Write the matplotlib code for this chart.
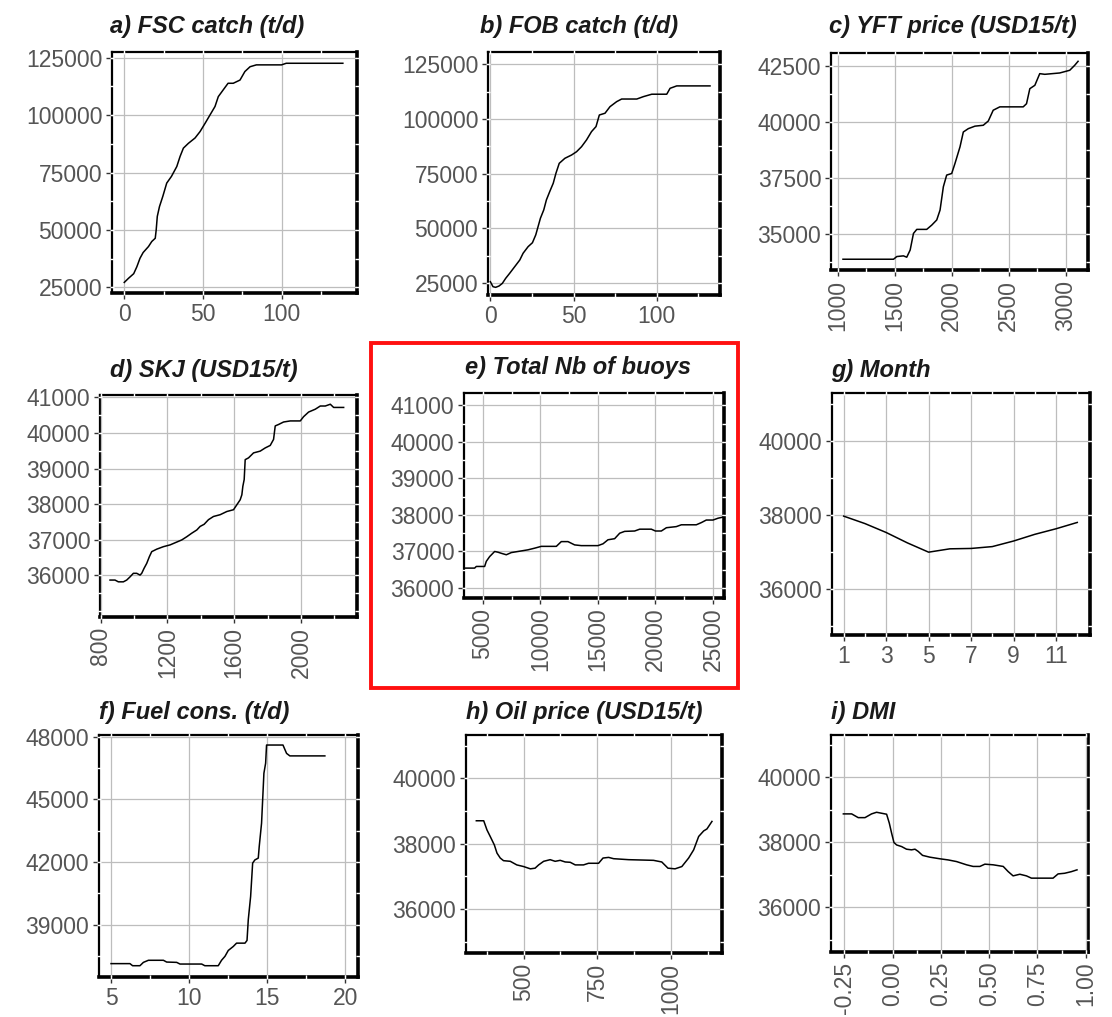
import numpy as np
import matplotlib
matplotlib.use('Agg')
import matplotlib.pyplot as plt
from matplotlib.ticker import MultipleLocator, FixedLocator, FormatStrFormatter
from matplotlib.patches import Rectangle

plt.rcParams['font.family'] = ['Liberation Sans', 'DejaVu Sans']

# a) FSC catch
fsc_x = [0, 2.7, 6, 8, 10, 12, 15.4, 17.5, 19.7, 20.3, 21, 22.4, 24.5, 27, 30, 33.4, 35.5,
         37.6, 40.8, 45, 48.2, 51.4, 54.5, 57.7, 59.8, 63, 66, 69.3, 73.6, 76.7, 80, 84, 100, 103, 139]
fsc_y = [27200, 29000, 31000, 34000, 37700, 40200, 42800, 45000, 46400, 50000, 55900, 60200,
         64600, 70400, 73300, 77600, 82000, 85600, 87700, 90000, 92800, 96400, 100000, 103700,
         108000, 111000, 113800, 113800, 115200, 118900, 121000, 121800, 121800, 122500, 122500]

# b) FOB catch
fob_x = [0, 1.6, 3.2, 5.2, 7.2, 9.2, 11.6, 14.7, 17.7, 19.7, 22.7, 25.3, 27.3, 28.7, 30.1, 32.1,
         33.7, 35.7, 37.8, 39.4, 41.4, 44.8, 48.8, 51.8, 54.8, 57.8, 60.8, 63.5, 65.5, 68.9, 71.9,
         75.9, 78.9, 88, 92, 97, 106, 108, 112, 132]
fob_y = [25600, 23300, 23000, 23600, 24800, 27100, 29400, 32500, 35500, 38600, 41600, 43400,
         47000, 50800, 54600, 58400, 63000, 66800, 70600, 75100, 79700, 82000, 83500, 85000,
         87300, 90400, 94200, 96500, 101800, 102600, 105600, 107900, 109100, 109100, 110200,
         111300, 111300, 114000, 115100, 115100]

# c) YFT price
yft_x = [1047, 1490, 1519, 1577, 1606, 1636, 1665, 1694, 1781, 1825, 1869, 1898, 1927, 1956, 2000,
         2029, 2073, 2102, 2146, 2204, 2277, 2321, 2364, 2422, 2627, 2656, 2685, 2729, 2772, 2816,
         2947, 3035, 3078, 3108]
yft_y = [33890, 33890, 34010, 34040, 33980, 34300, 35040, 35220, 35220, 35410, 35640, 36080, 37120,
         37640, 37710, 38160, 38900, 39560, 39710, 39820, 39860, 40050, 40530, 40680, 40680, 40820,
         41490, 41640, 42160, 42130, 42190, 42310, 42530, 42710]

# d) SKJ price
skj_x = [856, 886, 906, 936, 956, 976, 996, 1016, 1036, 1046, 1060, 1076, 1092, 1106, 1136, 1176,
         1216, 1246, 1286, 1316, 1346, 1376, 1396, 1420, 1446, 1476, 1516, 1556, 1596, 1616, 1636,
         1646, 1652, 1660, 1666, 1686, 1716, 1756, 1786, 1816, 1836, 1846, 1866, 1896, 1936, 1996,
         2016, 2046, 2086, 2116, 2146, 2176, 2196, 2256]
skj_y = [35860, 35860, 35810, 35810, 35860, 35950, 36050, 36050, 36000, 36050, 36190, 36330, 36520,
         36660, 36730, 36800, 36850, 36910, 36990, 37080, 37180, 37270, 37370, 37430, 37560, 37650,
         37700, 37790, 37840, 37980, 38120, 38260, 38500, 38690, 39250, 39300, 39440, 39490, 39580,
         39650, 39820, 40200, 40240, 40310, 40340, 40340, 40460, 40590, 40670, 40760, 40760, 40810,
         40720, 40720]

# e) Total Nb of buoys
buoy_x = [3400, 4275, 4420, 5145, 5290, 5580, 6015, 6305, 6595, 7030, 7465, 8045, 8910, 9490,
          10070, 11380, 11810, 12390, 12970, 13550, 15000, 15440, 15870, 16450, 16890, 17320,
          18190, 18630, 19640, 20000, 20510, 20950, 21810, 22250, 23550, 23990, 24420, 25000,
          25440, 25870]
buoy_y = [36545, 36545, 36590, 36590, 36730, 36860, 37000, 36980, 36950, 36910, 36970, 37000,
          37045, 37090, 37140, 37140, 37270, 37270, 37180, 37160, 37160, 37210, 37320, 37350,
          37500, 37550, 37560, 37610, 37610, 37560, 37560, 37650, 37680, 37730, 37730, 37790,
          37860, 37860, 37910, 37940]

# g) Month
month_x = [1, 2, 3, 4, 5, 6, 7, 8, 9, 10, 11, 12]
month_y = [37970, 37770, 37530, 37250, 37000, 37090, 37100, 37150, 37300, 37480, 37630, 37800]

# f) Fuel consumption
fuel_x = [5, 6.21, 6.38, 6.85, 7.07, 7.39, 8.35, 8.56, 9.2, 9.41, 10.8, 11.0, 11.86, 12.07, 12.29,
          12.5, 12.82, 13.03, 13.57, 13.7, 13.78, 13.93, 14.06, 14.2, 14.42, 14.48, 14.63, 14.78,
          14.89, 14.95, 15.16, 16.0, 16.23, 16.44, 18.68]
fuel_y = [37140, 37140, 37040, 37040, 37200, 37300, 37300, 37215, 37200, 37120, 37120, 37040,
          37040, 37300, 37490, 37770, 37960, 38120, 38120, 38250, 39240, 40350, 41950, 42100,
          42190, 42740, 43860, 46250, 46730, 47600, 47600, 47600, 47200, 47080, 47080]

# h) Oil price
oil_x = [340, 365, 376, 387, 401, 410, 421, 432, 455, 477, 500, 523, 539, 551, 568, 590, 607, 624,
         641, 658, 675, 703, 720, 754, 769, 788, 805, 856, 940, 968, 989, 1013, 1036, 1059, 1076,
         1093, 1110, 1121, 1138]
oil_y = [38700, 38700, 38420, 38220, 37960, 37710, 37560, 37480, 37460, 37350, 37300, 37230,
         37250, 37350, 37460, 37510, 37460, 37490, 37440, 37430, 37350, 37350, 37400, 37400,
         37560, 37580, 37540, 37510, 37490, 37440, 37250, 37230, 37300, 37560, 37810, 38220,
         38390, 38450, 38680]

# i) DMI
dmi_x = [-0.255, -0.212, -0.178, -0.143, -0.109, -0.083, -0.057, -0.031, -0.017, -0.005, 0.007,
         0.021, 0.047, 0.072, 0.098, 0.116, 0.133, 0.155, 0.193, 0.245, 0.288, 0.331, 0.383,
         0.417, 0.452, 0.478, 0.521, 0.573, 0.598, 0.624, 0.659, 0.693, 0.719, 0.753, 0.831,
         0.857, 0.891, 0.926, 0.955]
dmi_y = [38875, 38875, 38760, 38760, 38875, 38925, 38895, 38865, 38590, 38280, 37995, 37920,
         37870, 37790, 37770, 37790, 37720, 37600, 37545, 37495, 37460, 37410, 37310, 37260,
         37260, 37330, 37310, 37260, 37105, 36970, 37020, 36970, 36900, 36900, 36900, 37030,
         37050, 37100, 37155]

# panel setup: title, data, ticks, axis box in pixels (left, right, top, bottom)
panels = [
    ('a) FSC catch (t/d)', fsc_x, fsc_y, [0, 50, 100], [25000, 50000, 75000, 100000, 125000],
     (-7.8, 148), (22600, 127400), 0, None, (112, 357, 52, 293), (110, 26)),
    ('b) FOB catch (t/d)', fob_x, fob_y, [0, 50, 100], [25000, 50000, 75000, 100000, 125000],
     (-1.4, 138), (19500, 130600), 0, None, (488, 720, 52, 295), (480, 26)),
    ('c) YFT price (USD15/t)', yft_x, yft_y, [1000, 1500, 2000, 2500, 3000],
     [35000, 37500, 40000, 42500], (942, 3195), (33410, 43080), 90, None, (831, 1088, 53, 270), (829, 26)),
    ('d) SKJ (USD15/t)', skj_x, skj_y, [800, 1200, 1600, 2000],
     [36000, 37000, 38000, 39000, 40000, 41000], (796, 2336), (34820, 41070), 90, None,
     (100, 357, 395, 617), (110, 370)),
    ('e) Total Nb of buoys', buoy_x, buoy_y, [5000, 10000, 15000, 20000, 25000],
     [36000, 37000, 38000, 39000, 40000, 41000], (3350, 25960), (35727, 41336), 90, None,
     (464, 724, 393, 598), (465, 368)),
    ('g) Month', month_x, month_y, [1, 3, 5, 7, 9, 11], [36000, 38000, 40000],
     (0.45, 12.6), (34770, 41285), 0, None, (832, 1090, 393, 635), (831, 370)),
    ('f) Fuel cons. (t/d)', fuel_x, fuel_y, [5, 10, 15, 20], [39000, 42000, 45000, 48000],
     (4.23, 20.8), (36500, 48080), 0, None, (99, 358, 735, 977), (99, 712)),
    ('h) Oil price (USD15/t)', oil_x, oil_y, [500, 750, 1000], [36000, 38000, 40000],
     (305, 1172), (34656, 41323), 90, None, (466, 722, 735, 953), (466, 712)),
    ('i) DMI', dmi_x, dmi_y, [-0.25, 0.0, 0.25, 0.5, 0.75, 1.0], [36000, 38000, 40000],
     (-0.319, 1.012), (34630, 41300), 90, '%.2f', (831, 1088, 735, 952), (831, 712)),
]

W, H = 1112, 1017
fig = plt.figure(figsize=(W / 100, H / 100), dpi=100)
fig.patch.set_facecolor('white')

for (title, xs, ys, xt, yt, xl, yl, rot, fmt, box, tpos) in panels:
    L, R, T, B = box
    ax = fig.add_axes([L / W, 1 - B / H, (R - L) / W, (B - T) / H])
    ax.plot(xs, ys, color='black', lw=1.1, zorder=5)
    ax.set_xlim(xl)
    ax.set_ylim(yl)
    ax.xaxis.set_major_locator(FixedLocator(xt))
    ax.yaxis.set_major_locator(FixedLocator(yt))
    ax.xaxis.set_minor_locator(MultipleLocator((xt[1] - xt[0]) / 2))
    ax.yaxis.set_minor_locator(MultipleLocator((yt[1] - yt[0]) / 2))
    ax.xaxis.remove_overlapping_locs = False
    ax.yaxis.remove_overlapping_locs = False
    if fmt:
        ax.xaxis.set_major_formatter(FormatStrFormatter(fmt))
    ax.grid(True, which='major', color='#bdbdbd', lw=0.9)
    ax.tick_params(which='major', direction='out', length=4, width=1.0, color='#333333',
                   labelsize=16.5, labelcolor='#555555', pad=3)
    ax.tick_params(which='minor', direction='inout', length=3.5, width=1.0, color='white',
                   top=True, right=True, bottom=True, left=True)
    ax.tick_params(axis='x', which='major', labelrotation=rot)
    ax.xaxis.set_zorder(3)
    ax.yaxis.set_zorder(3)
    for s, w in (('left', 1.6), ('top', 1.6), ('bottom', 2.6), ('right', 2.6)):
        ax.spines[s].set_linewidth(w)
        ax.spines[s].set_color('black')
    fig.text(tpos[0] / W, 1 - tpos[1] / H, title, fontsize=17, fontweight='bold',
             fontstyle='italic', color='#1a1a1a', ha='left', va='center')

# red highlight box around panel e
fig.patches.append(Rectangle((371 / W, 1 - 688 / H), (738 - 371) / W, (688 - 343) / H,
                             transform=fig.transFigure, fill=False, edgecolor='#ff1010', lw=2.8))

plt.savefig('out.png', dpi=100, facecolor='white')
plt.close()
